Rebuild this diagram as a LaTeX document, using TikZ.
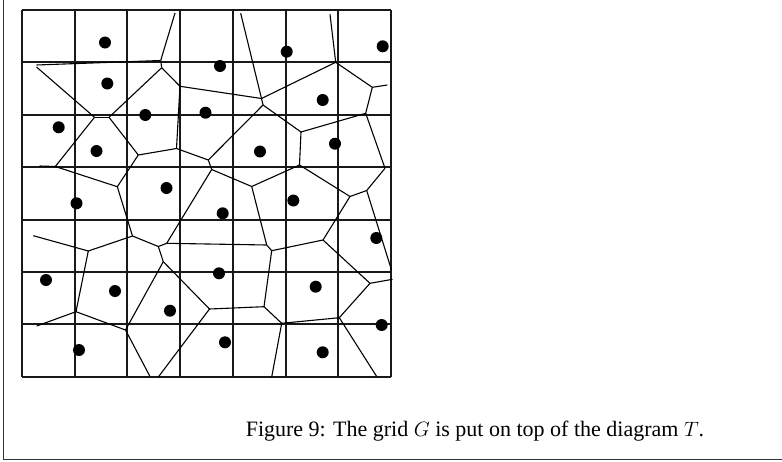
\documentclass[tikz,border=0pt]{standalone}
\usepackage{fontspec}
\setmainfont{Liberation Serif}
\begin{document}
\begin{tikzpicture}[x=1pt,y=-1pt,
  gridline/.style={line width=1.9pt,black!90},
  vedge/.style={line width=1.1pt,black},
  site/.style={circle,fill=black,inner sep=0pt,minimum size=12pt},
  frameline/.style={line width=1pt,black!80}]
\useasboundingbox (0,0) rectangle (782,461);
% frame
\coordinate (fTop) at (3.5,0);
\coordinate (fCorner) at (3.5,459.5);
\coordinate (fRight) at (782,459.5);
\draw[frameline] (fTop) -- (fCorner) -- (fRight);
% grid
\foreach \i in {0,...,7}{
  \draw[gridline] (22+52.71*\i,10) -- (22+52.71*\i,376.8);
  \draw[gridline] (22,10+52.4*\i) -- (391,10+52.4*\i);
}
% Voronoi vertices
\coordinate (L1a) at (36.5,65);
\coordinate (L1b) at (36.5,67);
\coordinate (A) at (175,13);
\coordinate (B) at (160.7,60.5);
\coordinate (C) at (161.7,67.7);
\coordinate (D) at (94.5,117.3);
\coordinate (E) at (109,117.3);
\coordinate (F) at (180,86.3);
\coordinate (G) at (261.5,98.5);
\coordinate (G2) at (263,105);
\coordinate (T2) at (240.7,13.3);
\coordinate (T3) at (330,14.3);
\coordinate (K) at (335.7,62.3);
\coordinate (P) at (372.3,87.3);
\coordinate (Pe) at (387.3,85);
\coordinate (Q) at (365.7,113.3);
\coordinate (N) at (301,132);
\coordinate (S) at (299.5,165);
\coordinate (U) at (385,168.3);
\coordinate (V) at (366.7,190.5);
\coordinate (Ve) at (391.5,270);
\coordinate (X) at (350,196.5);
\coordinate (Z) at (323,240);
\coordinate (AA) at (266.7,245);
\coordinate (AA2) at (271.7,250.7);
\coordinate (AB) at (370,283.3);
\coordinate (ABe) at (392.5,279.3);
\coordinate (AC) at (339.3,317.7);
\coordinate (ACe) at (376.7,376.5);
\coordinate (AD) at (281.7,323.3);
\coordinate (ADe) at (271.7,377);
\coordinate (AE) at (264,306.7);
\coordinate (AF) at (209.5,309);
\coordinate (AFe) at (158.3,377);
\coordinate (W) at (251.7,186.5);
\coordinate (J) at (208.3,160);
\coordinate (J2) at (211.7,169.5);
\coordinate (H) at (176.5,148.5);
\coordinate (I) at (138.3,155);
\coordinate (AG) at (166.7,243.3);
\coordinate (AH) at (158.3,246.5);
\coordinate (AJ) at (163.3,261.7);
\coordinate (AL) at (125.5,330);
\coordinate (ALe) at (150,376.5);
\coordinate (AM) at (76,311.7);
\coordinate (AMe) at (36.7,326);
\coordinate (AN) at (88.3,251);
\coordinate (ANe) at (33.3,235.7);
\coordinate (AI) at (132.5,236);
\coordinate (AO) at (117.3,186.7);
\coordinate (AP) at (55.3,166.5);
\coordinate (APe) at (39.7,166);
% Voronoi edges
\draw[vedge] (L1a) -- (B);
\draw[vedge] (A) -- (B);
\draw[vedge] (B) -- (C);
\draw[vedge] (L1b) -- (D);
\draw[vedge] (D) -- (E);
\draw[vedge] (E) -- (C);
\draw[vedge] (C) -- (F);
\draw[vedge] (F) -- (G);
\draw[vedge] (T2) -- (G);
\draw[vedge] (G) -- (K);
\draw[vedge] (G) -- (G2);
\draw[vedge] (G2) -- (N);
\draw[vedge] (T3) -- (K);
\draw[vedge] (K) -- (P);
\draw[vedge] (P) -- (Pe);
\draw[vedge] (P) -- (Q);
\draw[vedge] (Q) -- (N);
\draw[vedge] (N) -- (S);
\draw[vedge] (Q) -- (U);
\draw[vedge] (U) -- (V);
\draw[vedge] (V) -- (Ve);
\draw[vedge] (S) -- (W);
\draw[vedge] (S) -- (X);
\draw[vedge] (X) -- (V);
\draw[vedge] (X) -- (Z);
\draw[vedge] (Z) -- (AA2);
\draw[vedge] (Z) -- (AB);
\draw[vedge] (AB) -- (ABe);
\draw[vedge] (AB) -- (AC);
\draw[vedge] (AC) -- (ACe);
\draw[vedge] (AC) -- (AD);
\draw[vedge] (AD) -- (ADe);
\draw[vedge] (AD) -- (AE);
\draw[vedge] (AE) -- (AA2);
\draw[vedge] (AA2) -- (AA);
\draw[vedge] (AA) -- (W);
\draw[vedge] (AA) -- (AG);
\draw[vedge] (AE) -- (AF);
\draw[vedge] (AF) -- (AFe);
\draw[vedge] (AF) -- (AJ);
\draw[vedge] (W) -- (J2);
\draw[vedge] (J2) -- (J);
\draw[vedge] (J) -- (G2);
\draw[vedge] (J) -- (H);
\draw[vedge] (H) -- (F);
\draw[vedge] (H) -- (I);
\draw[vedge] (I) -- (E);
\draw[vedge] (I) -- (AO);
\draw[vedge] (AO) -- (AP);
\draw[vedge] (AP) -- (D);
\draw[vedge] (AP) -- (APe);
\draw[vedge] (AO) -- (AI);
\draw[vedge] (AI) -- (AN);
\draw[vedge] (AI) -- (AH);
\draw[vedge] (AH) -- (AG);
\draw[vedge] (AG) -- (J2);
\draw[vedge] (AH) -- (AJ);
\draw[vedge] (AJ) -- (AL);
\draw[vedge] (AL) -- (ALe);
\draw[vedge] (AL) -- (AM);
\draw[vedge] (AM) -- (AMe);
\draw[vedge] (AM) -- (AN);
\draw[vedge] (AN) -- (ANe);
% sites
\node[site] (s1) at (105,42.5) {};
\node[site] (s2) at (107.3,83.5) {};
\node[site] (s3) at (145.3,115) {};
\node[site] (s4) at (205.5,112.7) {};
\node[site] (s5) at (58.7,127.3) {};
\node[site] (s6) at (96.5,151) {};
\node[site] (s7) at (166.5,188) {};
\node[site] (s8) at (286.7,51.7) {};
\node[site] (s9) at (382.7,46.3) {};
\node[site] (s10) at (220,66) {};
\node[site] (s11) at (322.7,100) {};
\node[site] (s12) at (335,143.7) {};
\node[site] (s13) at (260,151.5) {};
\node[site] (s14) at (293.3,200.5) {};
\node[site] (s15) at (76.5,203.3) {};
\node[site] (s16) at (46,280) {};
\node[site] (s17) at (115,291) {};
\node[site] (s18) at (170,310.7) {};
\node[site] (s19) at (79,350) {};
\node[site] (s20) at (222.7,213.3) {};
\node[site] (s21) at (376.3,238) {};
\node[site] (s22) at (219,273.3) {};
\node[site] (s23) at (315.7,286.7) {};
\node[site] (s24) at (381.7,325) {};
\node[site] (s25) at (225,342.3) {};
\node[site] (s26) at (322.7,352.3) {};
% caption
\node[anchor=base,inner sep=0pt,font=\fontsize{22}{26}\selectfont] (cap) at (475,436.5)
  {Figure 9: The grid $G$ is put on top of the diagram $T$.};
\end{tikzpicture}
\end{document}
